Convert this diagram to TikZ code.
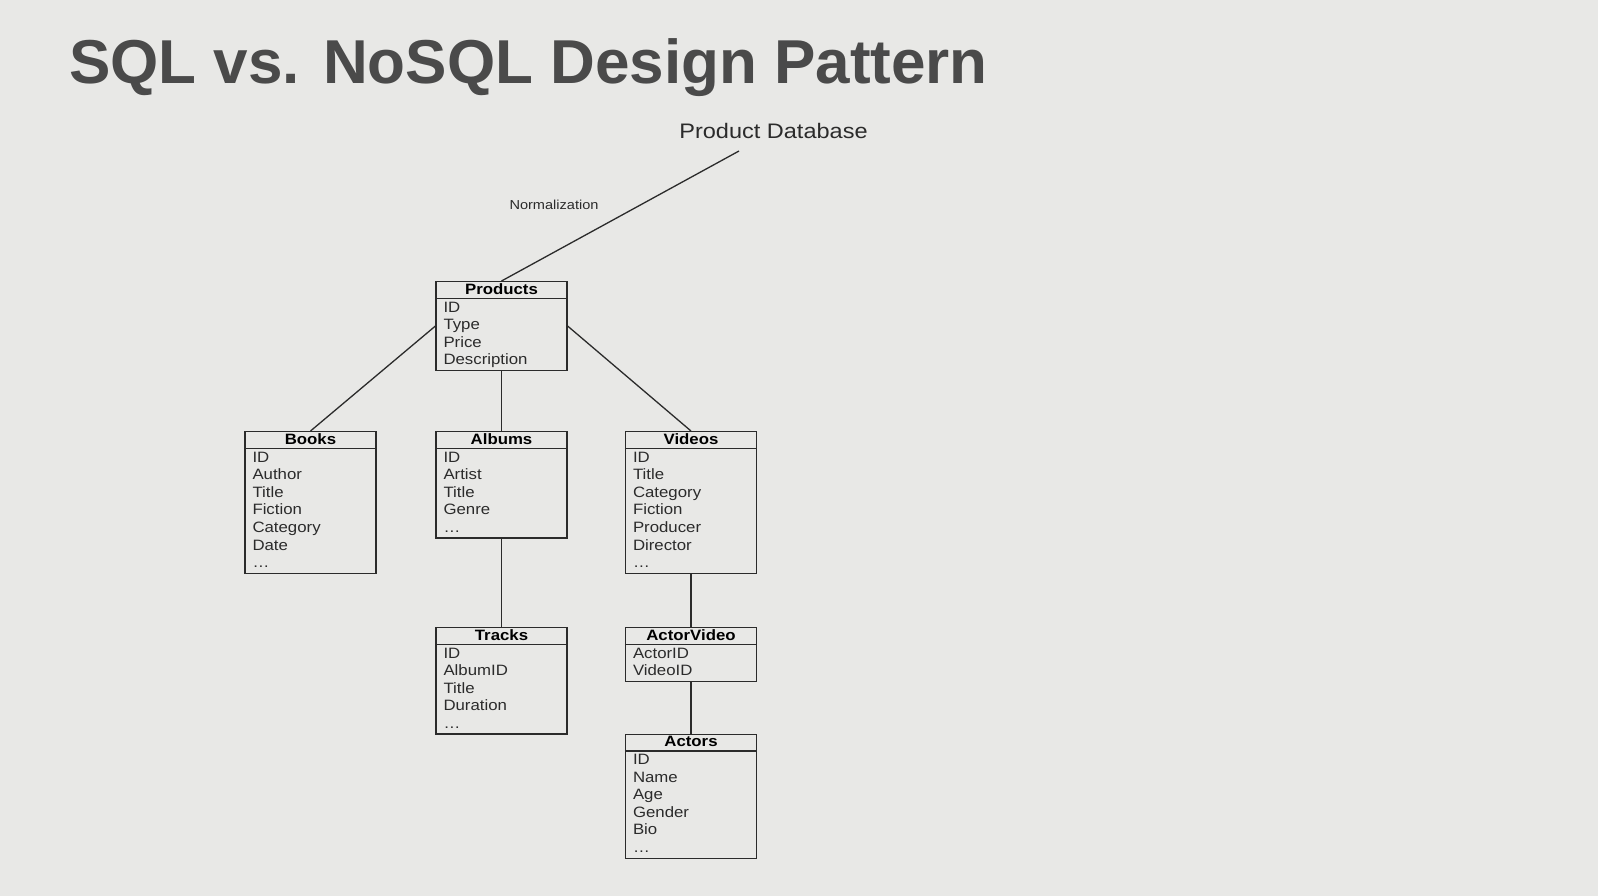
\documentclass[tikz,border=0pt]{standalone}
\usepackage{fontspec}
\setmainfont{Liberation Sans}
\newfontfamily\figfont[FakeStretch=1.12]{Liberation Sans}
\definecolor{slide}{HTML}{E8E8E6}
\definecolor{titlegray}{HTML}{4A4A4A}
\definecolor{ink}{HTML}{2B2B2B}
\tikzset{
  tbl/.style={draw=ink, line width=1.4pt, minimum width=131pt, inner sep=0pt},
  head/.style={anchor=base, inner sep=0pt, text=black, font=\figfont\bfseries\fontsize{15}{15}\selectfont},
  field/.style={anchor=base west, inner sep=0pt, text=ink, font=\figfont\fontsize{15}{15}\selectfont},
  link/.style={draw=ink, line width=1.3pt},
}
% one table: name, centre x, top y, title, fields, number of fields
\newcommand\dbtable[6]{%
  \node[tbl, anchor=north, minimum height={36+(#6-1)*17.6}] (#1) at (#2,#3) {};
  \draw[link] ([yshift=-17.5pt]#1.north west) -- ([yshift=-17.5pt]#1.north east);
  \node[head] at ([yshift=-13pt]#1.north) {#4};
  \foreach \f [count=\i] in {#5}
    \node[field] at ([shift={(8pt,{-31pt-(\i-1)*17.6pt})}]#1.north west) {\f};
}
\begin{document}
\begin{tikzpicture}[x=1pt, y=-1pt]
\fill[slide] (0,0) rectangle (1598,896);
\node[anchor=base west, inner sep=0pt, text=titlegray, font=\bfseries\fontsize{62}{62}\selectfont] (title) at (69,84) {SQL vs. NoSQL Design Pattern};
\node[anchor=base, inner sep=0pt, text=ink, font=\figfont\fontsize{21}{21}\selectfont] (pdb) at (773.5,139) {Product Database};
\node[anchor=base, inner sep=0pt, text=ink, font=\figfont\fontsize{13}{13}\selectfont] (norm) at (554,209.3) {Normalization};
\coordinate (pdbfoot) at (739,151);
%
\dbtable{products}{501.5}{281}{Products}{ID,Type,Price,Description}{4}
\dbtable{books}{310.5}{431}{Books}{ID,Author,Title,Fiction,Category,Date,\dots}{7}
\dbtable{albums}{501.5}{431}{Albums}{ID,Artist,Title,Genre,\dots}{5}
\dbtable{videos}{691}{431}{Videos}{ID,Title,Category,Fiction,Producer,Director,\dots}{7}
\dbtable{tracks}{501.5}{627}{Tracks}{ID,AlbumID,Title,Duration,\dots}{5}
\dbtable{actorvideo}{691}{627}{ActorVideo}{ActorID,VideoID}{2}
\dbtable{actors}{691}{733.5}{Actors}{ID,Name,Age,Gender,Bio,\dots}{6}
%
\draw[link] (pdbfoot) -- (products.north);
\draw[link] (products.west) -- (books.north);
\draw[link] (products.south) -- (albums.north);
\draw[link] (products.east) -- (videos.north);
\draw[link] (albums.south) -- (tracks.north);
\draw[link] (videos.south) -- (actorvideo.north);
\draw[link] (actorvideo.south) -- (actors.north);
\end{tikzpicture}
\end{document}
